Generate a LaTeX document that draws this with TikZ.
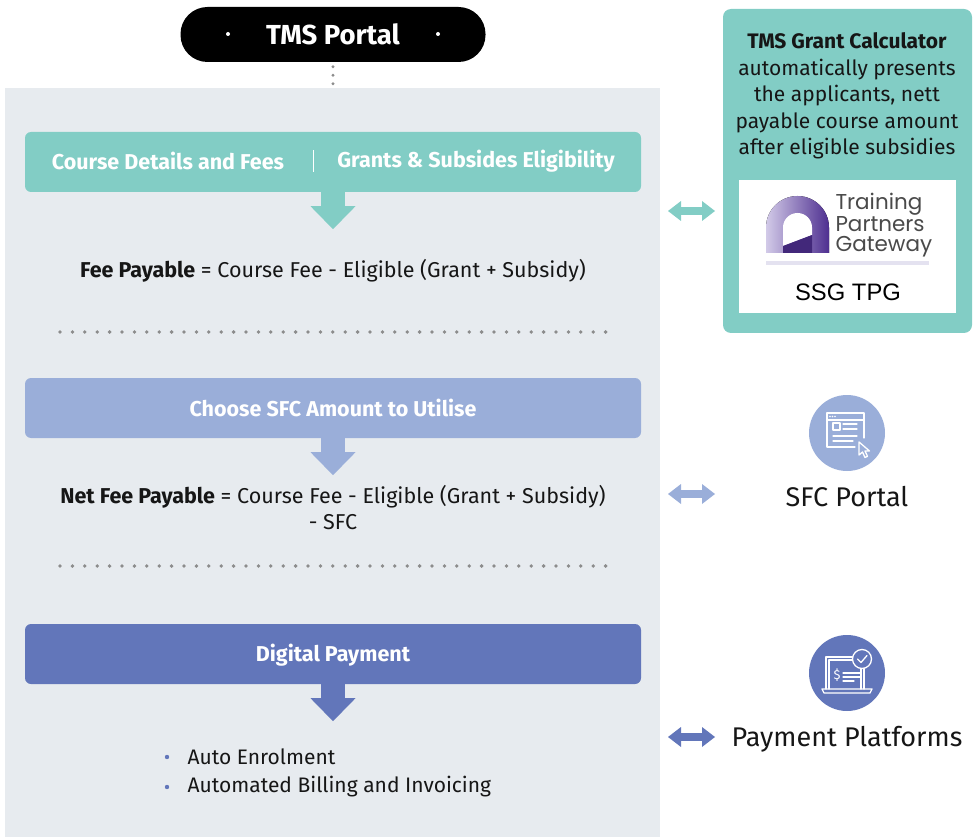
\documentclass[tikz,border=0pt]{standalone}
\usepackage{fontspec}
\setmainfont{Fira Sans}
\newfontfamily\logofont{Poppins}
\newfontfamily\tpgfont{Liberation Sans}
\usetikzlibrary{positioning,arrows.meta}

\definecolor{tealbox}{HTML}{82CDC5}
\definecolor{sfcblue}{HTML}{9AAED9}
\definecolor{payblue}{HTML}{6276BA}
\definecolor{panelgray}{HTML}{E7EBEF}
\definecolor{dotgray}{HTML}{8C8C8C}
\definecolor{inktext}{HTML}{161616}
\definecolor{logolight}{HTML}{D2CAE8}
\definecolor{logodark}{HTML}{4E2F90}
\definecolor{logobar}{HTML}{E4E2F0}
\definecolor{logogray}{HTML}{4A4A4A}

\tikzset{
  stepbar/.style={fill=#1, rounded corners=6pt, minimum width=616pt, minimum height=60pt, inner sep=0pt},
  barlabel/.style={text=white, font=\fontsize{21.5}{25}\selectfont\bfseries},
  formula/.style={text=inktext, font=\fontsize{21.5}{26}\selectfont, align=center},
  sidelabel/.style={text=inktext, font=\fontsize{27}{30}\selectfont},
  downarr/.style={color=#1, line width=24pt, -{Triangle[length=23pt,width=45pt,line width=0pt]}},
  botharr/.style={color=#1, line width=8pt, {Triangle[length=13pt,width=20pt,line width=0pt]}-{Triangle[length=13pt,width=20pt,line width=0pt]}},
  iconline/.style={white, line width=1.3pt, line cap=round, line join=round},
}

\begin{document}
\begin{tikzpicture}[x=1pt, y=-1pt]
  \useasboundingbox (0,0) rectangle (978,837);

  % Left panel and portal
  \node[fill=panelgray, minimum width=655pt, minimum height=749pt, inner sep=0pt] (panel) at (332.5,462.5) {};
  \node[fill=black, rounded corners=27pt, minimum width=305pt, minimum height=55pt, text=white,
        font=\fontsize{27.5}{30}\selectfont\bfseries] (tms) at (333,34.5) {TMS Portal};
  \fill[white] (228,34) circle (2pt);
  \fill[white] (438,34) circle (2pt);
  \draw[dotgray, line width=3.2pt, line cap=round, dash pattern=on 0pt off 8.5pt, dash phase=4pt] (tms.south) -- (tms.south |- panel.north);

  % Step 1
  \node[stepbar=tealbox] (bar1) at (333,162) {};
  \node[barlabel] (cdf) at (168,161) {Course Details and Fees};
  \node[barlabel] (gse) at (476,161) {Grants \& Subsides Eligibility};
  \draw[white, line width=1pt] (313,150) -- (313,172);
  \draw[downarr=tealbox] (bar1.south) -- ++(0,37);
  \node[formula] (fee) at (333,271) {\textbf{Fee Payable} = Course Fee - Eligible (Grant + Subsidy)};

  \foreach \i in {0,...,44} \fill[dotgray] (60+\i*12.4,332) circle (1.9pt);

  % Step 2
  \node[stepbar=sfcblue] (bar2) at (333,408) {};
  \node[barlabel] (sfcu) at (333,408) {Choose SFC Amount to Utilise};
  \draw[downarr=sfcblue] (bar2.south) -- ++(0,37);
  \node[formula] (netfee) at (333,508) {\textbf{Net Fee Payable} = Course Fee - Eligible (Grant + Subsidy)\\- SFC};

  \foreach \i in {0,...,44} \fill[dotgray] (60+\i*12.4,566) circle (1.9pt);

  % Step 3
  \node[stepbar=payblue] (bar3) at (333,654) {};
  \node[barlabel] (dp) at (333,655) {Digital Payment};
  \draw[downarr=payblue] (bar3.south) -- ++(0,37);
  \node[formula, anchor=west, font=\fontsize{21}{26}\selectfont] (enrol) at (184,757) {Auto Enrolment};
  \node[formula, anchor=west, font=\fontsize{21}{26}\selectfont] (bill) at (184,787) {Automated Billing and Invoicing};
  \fill[payblue] (167,757) circle (2.2pt);
  \fill[payblue] (167,787) circle (2.2pt);

  % Grant calculator
  \node[fill=tealbox, rounded corners=8pt, minimum width=249pt, minimum height=324pt, inner sep=0pt] (calc) at (847.5,171) {};
  \node[text=inktext, align=center, font=\fontsize{21}{26.5}\selectfont] (calctext) at (847,96)
    {\textbf{TMS Grant Calculator}\\automatically presents\\the applicants, nett\\payable course amount\\after eligible subsidies};
  \node[fill=white, minimum width=217pt, minimum height=133pt, inner sep=0pt] (tpg) at (847.5,246.5) {};
  % logo
  \fill[left color=logolight, right color=logodark] (766,253) -- (766,227.5) arc (180:0:31.5pt) -- (829,253) -- cycle;
  \fill[white] (783,246) -- (783,227.5) arc (180:0:14.5pt) -- (812,235) -- cycle;
  \fill[logodark!85!black] (783,246) -- (812,235) -- (812,253) -- (783,253) -- cycle;
  \node[anchor=west, text=logogray, align=left, font=\logofont\fontsize{21.5}{20.5}\selectfont] (tpgname) at (832,225)
    {Training\\Partners\\Gateway};
  \fill[logobar] (766,261) rectangle (929,265);
  \node[text=black, font=\tpgfont\fontsize{23.8}{26}\selectfont] (ssg) at (848,292) {SSG TPG};

  % SFC portal
  \node[circle, fill=sfcblue, minimum size=76pt, inner sep=0pt] (sfc) at (847,433) {};
  \node[sidelabel] (sfcname) at (847,497) {SFC Portal};
  \begin{scope}[shift={(sfc.center)}]
    \draw[iconline] (8,14) -- (-20,14) -- (-20,-20) -- (17,-20) -- (17,5);
    \draw[iconline] (-20,-13) -- (17,-13);
    \foreach \d in {-17,-14.5,-12} \fill[white] (\d,-16.5) circle (0.8pt);
    \draw[iconline] (-14,-10) rectangle (-7,-3);
    \draw[iconline] (-4,-9) -- (10,-9) (-4,-4) -- (10,-4);
    \draw[iconline] (-14,3) -- (10,3) (-14,8) -- (6,8);
    \draw[iconline] (12,9) -- (12,22) -- (15.5,19) -- (18,24.5) -- (20.5,23.3) -- (18,18) -- (22.5,18) -- cycle;
  \end{scope}

  % Payment platforms
  \node[circle, fill=payblue, minimum size=76pt, inner sep=0pt] (pay) at (847,673) {};
  \node[sidelabel] (payname) at (847,739) {Payment Platforms};
  \begin{scope}[shift={(pay.center)}]
    \draw[iconline] (-21,16) -- (-21,-16) -- (17,-16) -- (17,16);
    \draw[iconline] (-18,16) -- (-18,-13) -- (14,-13) -- (14,16);
    \draw[iconline] (-25,16) -- (25,16) -- (23,20) -- (-23,20) -- cycle;
    \filldraw[payblue, draw=white, line width=1.3pt] (15,-14) circle (9.5pt);
    \draw[iconline] (10.5,-14) -- (14,-10.5) -- (20,-17.5);
    \node[text=white, font=\fontsize{13}{13}\selectfont] (dollar) at (-10,2) {\$};
    \draw[iconline] (-4,0) -- (13,0) (-4,4) -- (13,4) (-4,8) -- (7,8);
  \end{scope}

  % Links
  \coordinate (l1) at (668,211);  \coordinate (r1) at (715,211);
  \coordinate (l2) at (668,494);  \coordinate (r2) at (715,494);
  \coordinate (l3) at (668,737);  \coordinate (r3) at (715,737);
  \draw[botharr=tealbox] (l1) -- (r1);
  \draw[botharr=sfcblue] (l2) -- (r2);
  \draw[botharr=payblue] (l3) -- (r3);
\end{tikzpicture}
\end{document}
